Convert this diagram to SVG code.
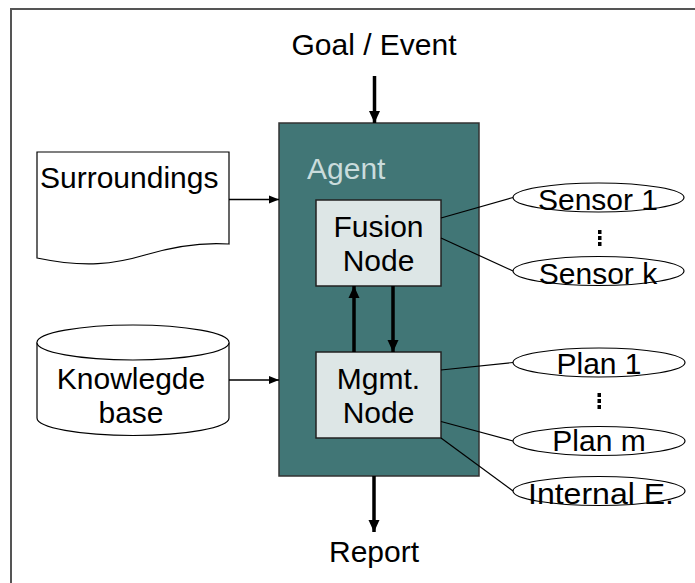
<svg xmlns="http://www.w3.org/2000/svg" width="695" height="583" viewBox="0 0 695 583">
<defs>
<marker id="ahBig" markerUnits="userSpaceOnUse" markerWidth="12" markerHeight="12" viewBox="0 0 12 12" refX="12" refY="6" orient="auto">
<path d="M0,0.5 L12,6 L0,11.5 Z" fill="#000"/>
</marker>
<marker id="ahSmall" markerUnits="userSpaceOnUse" markerWidth="10" markerHeight="9" viewBox="0 0 10 9" refX="10" refY="4.5" orient="auto">
<path d="M0,0.5 L10,4.5 L0,8.5 Z" fill="#000"/>
</marker>
</defs>
<style>
.t{font-family:"Liberation Sans",Arial,sans-serif;font-size:30px;fill:#000;}
.c{text-anchor:middle;}
.shape{fill:#fff;stroke:#000;stroke-width:1.2;}
.inner{fill:#dde6e6;stroke:#222;stroke-width:1.5;}
.thick{stroke:#000;stroke-width:3.5;fill:none;}
.thin{stroke:#000;stroke-width:1.5;fill:none;}
.link{stroke:#000;stroke-width:1.2;fill:none;}
</style>
<rect width="695" height="583" fill="#fff"/>
<path d="M11,583 V9 H695" fill="none" stroke="#555" stroke-width="2"/>

<g id="goal"><text class="t c" x="374" y="55">Goal / Event</text></g>
<g id="report"><text class="t c" x="374" y="562">Report</text></g>

<g id="agent">
<rect x="279" y="123" width="200" height="353" fill="#417676" stroke="#333" stroke-width="1.5"/>
<text class="t" x="307" y="179" style="fill:#cadcdc">Agent</text>
</g>

<g id="fusion">
<rect class="inner" x="316" y="200" width="125" height="86"/>
<text class="t c" x="378.5" y="237">Fusion</text>
<text class="t c" x="378.5" y="271">Node</text>
</g>

<g id="mgmt">
<rect class="inner" x="316" y="352" width="125" height="86"/>
<text class="t c" x="378.5" y="389">Mgmt.</text>
<text class="t c" x="378.5" y="423">Node</text>
</g>

<g id="surroundings">
<path class="shape" d="M37,152 H229 V244 C200,242 175,246 145,255 C115,264 85,268 37,258 Z"/>
<text class="t" x="40" y="188">Surroundings</text>
</g>

<g id="knowledge">
<path class="shape" d="M37,342.5 A96,17.5 0 0 1 229,342.5 V418 A96,17.5 0 0 1 37,418 Z"/>
<path class="shape" d="M37,342.5 A96,17.5 0 0 0 229,342.5" fill="none"/>
<text class="t c" x="131" y="389">Knowlegde</text>
<text class="t c" x="131" y="423">base</text>
</g>

<g id="sensor1"><ellipse class="shape" cx="598.5" cy="197.5" rx="85.5" ry="14.5"/><text class="t c" x="598" y="210">Sensor 1</text></g>
<g id="sensork"><ellipse class="shape" cx="598.5" cy="271" rx="85.5" ry="14.5"/><text class="t c" x="598" y="284">Sensor k</text></g>
<g id="plan1"><ellipse class="shape" cx="599" cy="362.5" rx="86" ry="14.5"/><text class="t c" x="599" y="374">Plan 1</text></g>
<g id="planm"><ellipse class="shape" cx="599" cy="441" rx="86" ry="14.5"/><text class="t c" x="599" y="451">Plan m</text></g>
<g id="internal"><ellipse class="shape" cx="599" cy="491" rx="86" ry="14.5"/><text class="t c" x="601" y="504" textLength="146" lengthAdjust="spacingAndGlyphs">Internal E.</text></g>

<g id="dots" fill="#000">
<rect x="598" y="230" width="3.5" height="4"/><rect x="598" y="236" width="3.5" height="4"/><rect x="598" y="242" width="3.5" height="4"/>
<rect x="597.5" y="393" width="3.5" height="4"/><rect x="597.5" y="399" width="3.5" height="4"/><rect x="597.5" y="405" width="3.5" height="4"/>
</g>

<g id="connectors">
<line class="thick" x1="374.5" y1="76" x2="374.5" y2="123" marker-end="url(#ahBig)"/>
<line class="thick" x1="374" y1="476" x2="374" y2="532" marker-end="url(#ahBig)"/>
<line class="thick" x1="354" y1="352" x2="354" y2="286" marker-end="url(#ahBig)"/>
<line class="thick" x1="393" y1="286" x2="393" y2="352" marker-end="url(#ahBig)"/>
<line class="thin" x1="229" y1="199.5" x2="279" y2="199.5" marker-end="url(#ahSmall)"/>
<line class="thin" x1="229" y1="380" x2="279" y2="380" marker-end="url(#ahSmall)"/>
<line class="link" x1="441" y1="218" x2="513" y2="197.5"/>
<line class="link" x1="441" y1="238" x2="513" y2="271"/>
<line class="link" x1="441" y1="370" x2="513" y2="362.5"/>
<line class="link" x1="441" y1="421.5" x2="513" y2="441"/>
<line class="link" x1="441" y1="438" x2="513" y2="491"/>
</g>
</svg>
